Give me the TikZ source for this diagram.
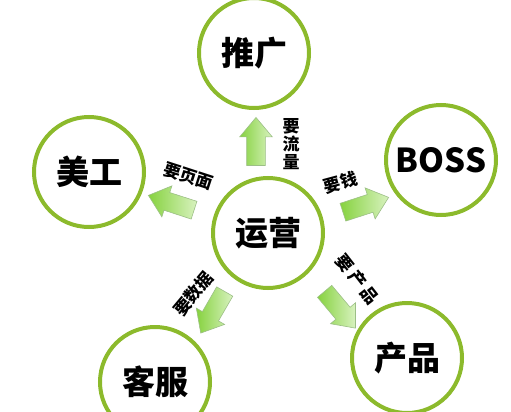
\documentclass[tikz,border=0pt]{standalone}
\usepackage{fontspec}
\newfontfamily\cjk{Noto Sans CJK SC}
\usetikzlibrary{positioning,calc,shapes.arrows}
\definecolor{ringgreen}{HTML}{8CBA2C}
\definecolor{arrowdark}{HTML}{86D23F}
\definecolor{arrowlight}{HTML}{D8F2BF}
\definecolor{arrowedge}{HTML}{9CBF86}

\begin{document}
\begin{tikzpicture}[x=1pt,y=-1pt,
  role/.style={circle,draw=ringgreen,line width=4pt,minimum size=110pt,inner sep=0pt,font=\cjk\bfseries\fontsize{33}{33}\selectfont},
  bigarrow/.style={single arrow,draw=arrowedge,line width=0.6pt,left color=arrowdark,right color=arrowlight,minimum height=48pt,inner xsep=0pt,inner ysep=9pt,single arrow head extend=7pt,single arrow tip angle=80},
  ask/.style={font=\cjk\bfseries\fontsize{17}{18}\selectfont,inner sep=0pt,align=center}]
	\useasboundingbox (0,0) rectangle (511,412);
	% the six roles
	\node[role] (yy) at (268,233) {运营};
	\node[role] (tg) at (254,53) {推广};
	\node[role] (mg) at (89,172) {美工};
	\node[role] (boss) at (441,160) {BOSS};
	\node[role] (kf) at (155,382) {客服};
	\node[role] (cp) at (407,358) {产品};
	% arrows out of the centre
	\node[bigarrow,rotate=90] (a_tg) at ($(yy)!0.5!(tg)+(-5,4)$) {};
	\node[bigarrow,rotate=162] (a_mg) at ($(yy)!0.5!(mg)+(-2,2)$) {};
	\node[bigarrow,rotate=18] (a_boss) at ($(yy)!0.5!(boss)+(6,10)$) {};
	\node[bigarrow,rotate=-120] (a_kf) at ($(yy)!0.5!(kf)+(4,0)$) {};
	\node[bigarrow,rotate=-50] (a_cp) at ($(yy)!0.5!(cp)+(-1,10)$) {};
	% what each one is asked for
	\node[ask] at ($(a_tg)+(35,-3)$) {要\\流\\量};
	\node[ask,rotate=-18] at ($(a_mg)+(12,-28)$) {要页面};
	\node[ask,rotate=15] at ($(a_boss)+(-20,-24)$) {要钱};
	\node[ask,rotate=50] at ($(a_kf)+(-22,-14)$) {要数据};
	\node[ask,rotate=-52] at ($(a_cp)+(21,-26)$) {要\hspace{3pt}产\hspace{3pt}品};
\end{tikzpicture}
\end{document}
